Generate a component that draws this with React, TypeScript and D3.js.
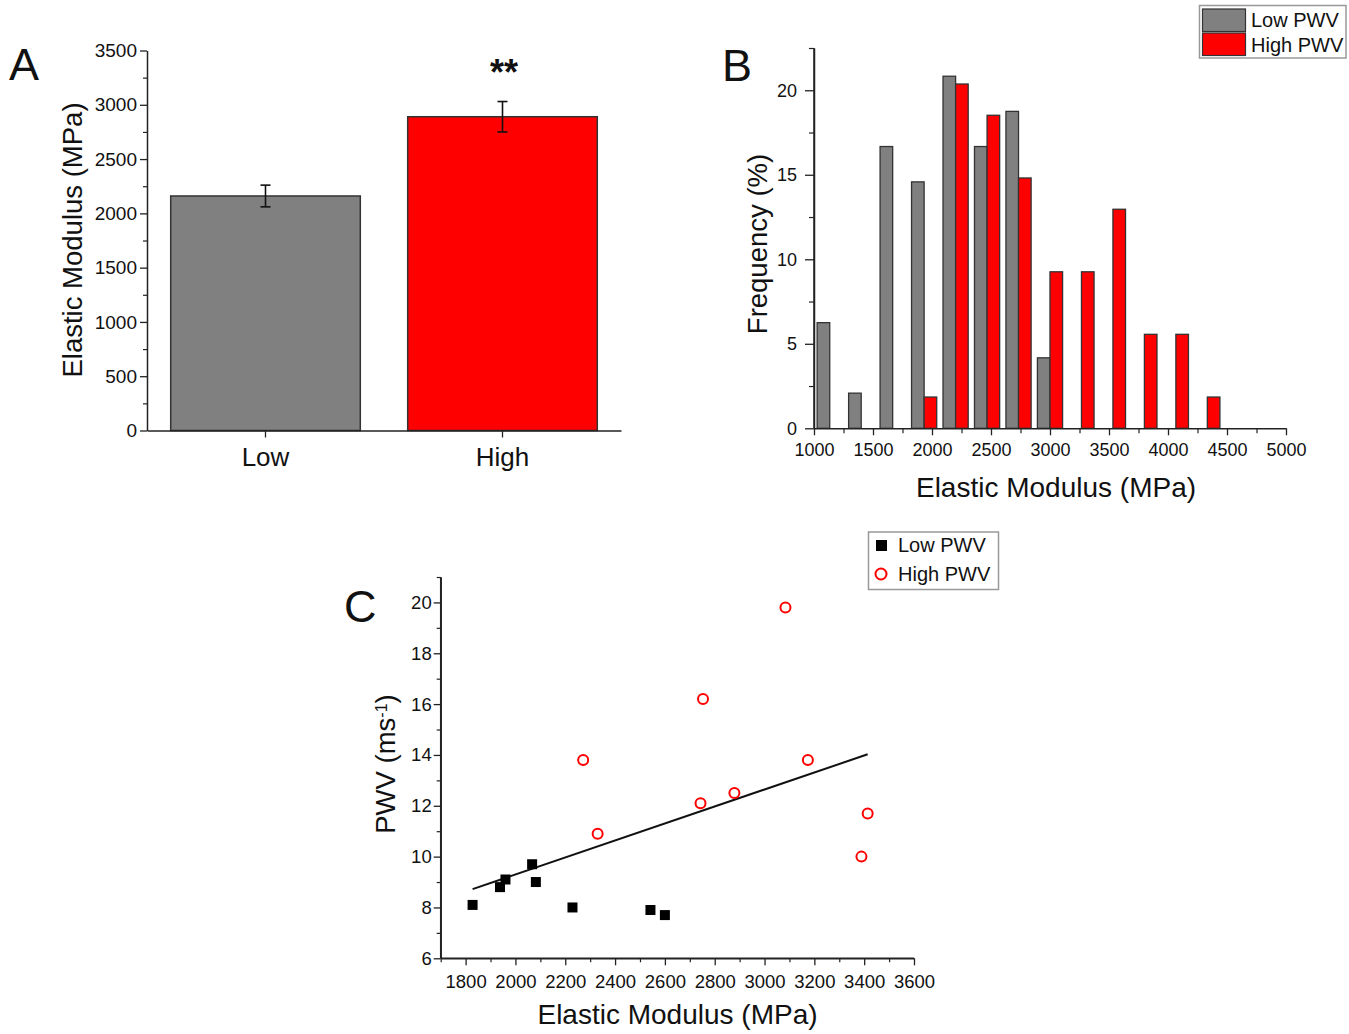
import React, { useRef, useEffect } from 'react';
import * as d3 from 'd3';

const FONT = '"Liberation Sans", Arial, Helvetica, sans-serif';
const INK = '#222';
const plain = d3.format('d');

// Panel A: mean elastic modulus by PWV group
const groups = ['Low', 'High'];
const groupMeans = [2160, 2890];
const groupErrors = [100, 140];
const groupColors = ['#808080', '#ff0000'];
const aTicks = [0, 500, 1000, 1500, 2000, 2500, 3000, 3500];
const aMinorTicks = [250, 750, 1250, 1750, 2250, 2750, 3250];

// Panel B: histogram of elastic modulus (bin centres, MPa)
const binCenters = [1133.3, 1400, 1666.7, 1933.3, 2200, 2466.7, 2733.3, 3000, 3266.7, 3533.3, 3800, 4066.7, 4333.3, 4600, 4866.7];
const lowPwvFreq = [6.25, 2.08, 16.67, 14.58, 20.83, 16.67, 18.75, 4.17, 0, 0, 0, 0, 0, 0, 0];
const highPwvFreq = [0, 0, 0, 1.85, 20.37, 18.52, 14.81, 9.26, 9.26, 12.96, 5.56, 5.56, 1.85, 0, 0];
const bTicksX = [1000, 1500, 2000, 2500, 3000, 3500, 4000, 4500, 5000];
const bMinorX = [1250, 1750, 2250, 2750, 3250, 3750, 4250, 4750];
const bTicksY = [0, 5, 10, 15, 20];
const bMinorY = [2.5, 7.5, 12.5, 17.5, 22.5];

// Panel C: PWV vs elastic modulus
const lowE = [1828, 1938, 1960, 2067, 2082, 2229, 2542, 2600];
const lowPwv = [8.1, 8.8, 9.1, 9.7, 9.0, 8.0, 7.9, 7.7];
const highE = [2272, 2330, 2743, 2753, 2879, 3084, 3174, 3389, 3414];
const highPwv = [13.8, 10.9, 12.1, 16.2, 12.5, 19.8, 13.8, 10.0, 11.7];
const cTicksX = [1800, 2000, 2200, 2400, 2600, 2800, 3000, 3200, 3400, 3600];
const cMinorX = [1700, 1900, 2100, 2300, 2500, 2700, 2900, 3100, 3300, 3500];
const cTicksY = [6, 8, 10, 12, 14, 16, 18, 20];
const cMinorY = [7, 9, 11, 13, 15, 17, 19, 21];

function styleAxis(g, fontSize) {
  g.attr('font-family', FONT).attr('font-size', fontSize).attr('color', INK);
  g.select('.domain').attr('stroke-width', 1.5);
  g.selectAll('.tick line').attr('stroke-width', 1.3);
  g.selectAll('.tick text').attr('fill', '#111');
  return g;
}

function minorAxis(g, axis) {
  g.call(axis.tickFormat(() => '').tickSizeOuter(0)).attr('color', INK);
  g.select('.domain').remove();
  g.selectAll('.tick line').attr('stroke-width', 1.2);
}

export default function App() {
  const svgRef = useRef(null);

  useEffect(() => {
    if (!svgRef.current) return;
    const svg = d3.select(svgRef.current);
    svg.selectAll('*').remove();
    svg.append('rect').attr('width', 1349).attr('height', 1034).attr('fill', '#fff');

    const label = (x, y, text, size, opts = {}) => {
      const t = svg.append('text')
        .attr('x', x).attr('y', y)
        .attr('font-family', FONT)
        .attr('font-size', size)
        .attr('fill', '#111')
        .attr('text-anchor', opts.anchor || 'middle')
        .text(text);
      if (opts.rotate) t.attr('transform', `rotate(-90,${x},${y})`);
      if (opts.weight) t.attr('font-weight', opts.weight);
      return t;
    };

    // ---------- Panel A ----------
    const xA = d3.scaleBand().domain(groups).range([147, 621]).paddingInner(0.2).paddingOuter(0.1);
    const yA = d3.scaleLinear().domain([0, 3500]).range([430.5, 50.5]);

    svg.append('g')
      .selectAll('rect')
      .data(groups)
      .enter().append('rect')
      .attr('x', d => xA(d))
      .attr('y', (d, i) => yA(groupMeans[i]))
      .attr('width', xA.bandwidth())
      .attr('height', (d, i) => yA(0) - yA(groupMeans[i]))
      .attr('fill', (d, i) => groupColors[i])
      .attr('stroke', '#333')
      .attr('stroke-width', 1.5);

    const errG = svg.append('g').attr('stroke', '#111').attr('stroke-width', 1.6);
    groups.forEach((g, i) => {
      const cx = xA(g) + xA.bandwidth() / 2;
      const top = yA(groupMeans[i] + groupErrors[i]);
      const bot = yA(groupMeans[i] - groupErrors[i]);
      errG.append('line').attr('x1', cx).attr('x2', cx).attr('y1', top).attr('y2', bot);
      errG.append('line').attr('x1', cx - 5).attr('x2', cx + 5).attr('y1', top).attr('y2', top);
      errG.append('line').attr('x1', cx - 5).attr('x2', cx + 5).attr('y1', bot).attr('y2', bot);
    });

    minorAxis(svg.append('g').attr('transform', 'translate(147,0)'),
      d3.axisLeft(yA).tickValues(aMinorTicks).tickSize(4));
    styleAxis(svg.append('g').attr('transform', 'translate(147,0)')
      .call(d3.axisLeft(yA).tickValues(aTicks).tickFormat(plain).tickSize(7).tickPadding(3).tickSizeOuter(0)), 19);
    styleAxis(svg.append('g').attr('transform', 'translate(0,430.5)')
      .call(d3.axisBottom(xA).tickSize(7).tickPadding(10).tickSizeOuter(0)), 26);

    label(504, 85, '**', 36, { weight: 'bold' });
    label(82, 240, 'Elastic Modulus (MPa)', 27.5, { rotate: true });
    label(9, 80, 'A', 45, { anchor: 'start' });

    // ---------- Panel B ----------
    const xB = d3.scaleLinear().domain([1000, 5000]).range([814, 1286]);
    const yB = d3.scaleLinear().domain([0, 22.5]).range([428.3, 48]);
    const binStep = binCenters[1] - binCenters[0];
    const barW = xB(binCenters[0]) - xB(binCenters[0] - 0.4 * binStep);

    const histG = svg.append('g').attr('stroke', '#333').attr('stroke-width', 1.3);
    binCenters.forEach((c, i) => {
      if (lowPwvFreq[i] > 0) {
        histG.append('rect')
          .attr('x', xB(c) - barW).attr('y', yB(lowPwvFreq[i]))
          .attr('width', barW).attr('height', yB(0) - yB(lowPwvFreq[i]))
          .attr('fill', '#808080');
      }
      if (highPwvFreq[i] > 0) {
        histG.append('rect')
          .attr('x', xB(c)).attr('y', yB(highPwvFreq[i]))
          .attr('width', barW).attr('height', yB(0) - yB(highPwvFreq[i]))
          .attr('fill', '#ff0000');
      }
    });

    minorAxis(svg.append('g').attr('transform', 'translate(814,0)'),
      d3.axisLeft(yB).tickValues(bMinorY).tickSize(5));
    styleAxis(svg.append('g').attr('transform', 'translate(814,0)')
      .call(d3.axisLeft(yB).tickValues(bTicksY).tickFormat(plain).tickSize(9).tickPadding(8).tickSizeOuter(0)), 18);
    minorAxis(svg.append('g').attr('transform', 'translate(0,428.3)'),
      d3.axisBottom(xB).tickValues(bMinorX).tickSize(5));
    styleAxis(svg.append('g').attr('transform', 'translate(0,428.3)')
      .call(d3.axisBottom(xB).tickValues(bTicksX).tickFormat(plain).tickSize(7).tickPadding(8).tickSizeOuter(0)), 18);
    // extend y axis line to top
    svg.append('line').attr('x1', 814).attr('x2', 814).attr('y1', 48).attr('y2', 428.3)
      .attr('stroke', INK).attr('stroke-width', 1.5);

    label(767, 244, 'Frequency (%)', 27.5, { rotate: true });
    label(1056, 497, 'Elastic Modulus (MPa)', 28);
    label(722, 81, 'B', 45, { anchor: 'start' });

    const legB = svg.append('g');
    legB.append('rect').attr('x', 1199.5).attr('y', 5.5).attr('width', 146.5).attr('height', 52.5)
      .attr('fill', '#fff').attr('stroke', '#999').attr('stroke-width', 1.5);
    [['Low PWV', '#808080'], ['High PWV', '#ff0000']].forEach(([name, col], i) => {
      legB.append('rect').attr('x', 1202.5).attr('y', 9 + i * 24).attr('width', 43).attr('height', 22.5)
        .attr('fill', col).attr('stroke', '#333').attr('stroke-width', 1.2);
      legB.append('text').attr('x', 1251).attr('y', 27 + i * 25)
        .attr('font-family', FONT).attr('font-size', 20).attr('fill', '#111').text(name);
    });

    // ---------- Panel C ----------
    const xC = d3.scaleLinear().domain([1700, 3600]).range([440.7, 914]);
    const yC = d3.scaleLinear().domain([6, 21]).range([958.3, 577]);

    minorAxis(svg.append('g').attr('transform', 'translate(440.7,0)'),
      d3.axisLeft(yC).tickValues(cMinorY).tickSize(4));
    styleAxis(svg.append('g').attr('transform', 'translate(440.7,0)')
      .call(d3.axisLeft(yC).tickValues(cTicksY).tickFormat(plain).tickSize(7).tickPadding(2).tickSizeOuter(0)), 18.5);
    minorAxis(svg.append('g').attr('transform', 'translate(0,958.3)'),
      d3.axisBottom(xC).tickValues(cMinorX).tickSize(4));
    styleAxis(svg.append('g').attr('transform', 'translate(0,958.3)')
      .call(d3.axisBottom(xC).tickValues(cTicksX).tickFormat(plain).tickSize(7).tickPadding(10).tickSizeOuter(0)), 18.5);
    svg.append('line').attr('x1', 440.7).attr('x2', 440.7).attr('y1', 577).attr('y2', 958.3)
      .attr('stroke', INK).attr('stroke-width', 1.5);
    svg.append('line').attr('x1', 440.7).attr('x2', 914).attr('y1', 958.3).attr('y2', 958.3)
      .attr('stroke', INK).attr('stroke-width', 1.5);

    // linear fit over all points
    const allE = lowE.concat(highE);
    const allP = lowPwv.concat(highPwv);
    const mE = d3.mean(allE);
    const mP = d3.mean(allP);
    const slope = d3.sum(allE, (e, i) => (e - mE) * (allP[i] - mP)) / d3.sum(allE, e => (e - mE) ** 2);
    const fit = e => mP + slope * (e - mE);
    const [eMin, eMax] = d3.extent(allE);
    svg.append('path')
      .datum([eMin, eMax])
      .attr('d', d3.line().x(e => xC(e)).y(e => yC(fit(e))))
      .attr('stroke', '#111').attr('stroke-width', 2).attr('fill', 'none');

    svg.append('g').selectAll('rect')
      .data(lowE)
      .enter().append('rect')
      .attr('x', d => xC(d) - 5).attr('y', (d, i) => yC(lowPwv[i]) - 5)
      .attr('width', 10).attr('height', 10)
      .attr('fill', '#000');

    svg.append('g').selectAll('circle')
      .data(highE)
      .enter().append('circle')
      .attr('cx', d => xC(d)).attr('cy', (d, i) => yC(highPwv[i]))
      .attr('r', 5)
      .attr('fill', 'none').attr('stroke', '#ff0000').attr('stroke-width', 2);

    const yl = label(395, 764, 'PWV (ms', 27.5, { rotate: true });
    yl.append('tspan').attr('baseline-shift', 'super').attr('font-size', 16).text('-1');
    yl.append('tspan').text(')');
    label(677.5, 1024, 'Elastic Modulus (MPa)', 28);
    label(344, 622, 'C', 45, { anchor: 'start' });

    const legC = svg.append('g');
    legC.append('rect').attr('x', 868.5).attr('y', 532).attr('width', 130).attr('height', 57.5)
      .attr('fill', '#fff').attr('stroke', '#999').attr('stroke-width', 1.5);
    legC.append('rect').attr('x', 876).attr('y', 540).attr('width', 11).attr('height', 11).attr('fill', '#000');
    legC.append('circle').attr('cx', 881).attr('cy', 574).attr('r', 5.5)
      .attr('fill', 'none').attr('stroke', '#ff0000').attr('stroke-width', 2);
    legC.append('text').attr('x', 898).attr('y', 552).attr('font-family', FONT).attr('font-size', 20)
      .attr('fill', '#111').text('Low PWV');
    legC.append('text').attr('x', 898).attr('y', 581).attr('font-family', FONT).attr('font-size', 20)
      .attr('fill', '#111').text('High PWV');
  }, []);

  return (
    <svg
      ref={svgRef}
      width={1349}
      height={1034}
      style={{ position: 'absolute', left: 0, top: 0, fontFamily: FONT }}
    />
  );
}
